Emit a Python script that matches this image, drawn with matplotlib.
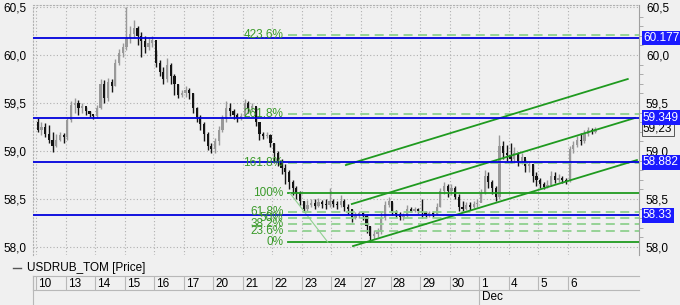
import numpy as np
import matplotlib.pyplot as plt
from matplotlib.lines import Line2D
from matplotlib.transforms import blended_transform_factory

plt.rcParams['font.family'] = ['Liberation Sans', 'DejaVu Sans']
plt.rcParams['font.size'] = 8.5

# --- data -------------------------------------------------------------
day_labels = ['10', '13', '14', '15', '16', '17', '20', '21', '22', '23',
              '24', '27', '28', '29', '30', '1', '4', '5', '6']
bars_per_day = 8
first_open = 59.30

close = [
    59.22, 59.25, 59.18, 59.12, 59.05, 59.12, 59.17, 59.15,   # 10
    59.32, 59.48, 59.50, 59.45, 59.47, 59.42, 59.39, 59.36,   # 13
    59.45, 59.70, 59.55, 59.72, 59.68, 59.92, 60.02, 60.08,   # 14
    60.18, 60.22, 60.28, 60.20, 60.15, 60.08, 60.12, 60.16,   # 15
    59.92, 59.82, 59.75, 59.90, 59.78, 59.70, 59.58, 59.60,   # 16
    59.64, 59.60, 59.45, 59.35, 59.28, 59.18, 59.05, 59.02,   # 17
    59.10, 59.22, 59.33, 59.45, 59.42, 59.38, 59.34, 59.36,   # 20
    59.50, 59.45, 59.47, 59.30, 59.18, 59.16, 59.17, 59.08,   # 21
    58.98, 58.90, 58.82, 58.78, 58.68, 58.62, 58.56, 58.48,   # 22
    58.40, 58.44, 58.46, 58.43, 58.47, 58.45, 58.44, 58.48,   # 23
    58.45, 58.44, 58.48, 58.42, 58.40, 58.30, 58.33, 58.35,   # 24
    58.32, 58.22, 58.12, 58.14, 58.16, 58.30, 58.44, 58.48,   # 27
    58.36, 58.34, 58.31, 58.32, 58.40, 58.38, 58.40, 58.38,   # 28
    58.36, 58.33, 58.35, 58.34, 58.42, 58.58, 58.64, 58.58,   # 29
    58.62, 58.52, 58.42, 58.40, 58.44, 58.42, 58.45, 58.46,   # 30
    58.56, 58.74, 58.68, 58.62, 58.52, 59.05, 58.98, 58.96,   # 1
    58.92, 58.98, 58.90, 58.94, 58.84, 58.86, 58.74, 58.70,   # 4
    58.66, 58.63, 58.65, 58.74, 58.70, 58.72, 58.70, 58.69,   # 5
    59.02, 59.06, 59.12, 59.10, 59.18, 59.22, 59.20, 59.23,   # 6
]
high = [
    59.34, 59.30, 59.29, 59.27, 59.20, 59.18, 59.20, 59.19,
    59.34, 59.52, 59.55, 59.53, 59.50, 59.46, 59.42, 59.38,
    59.48, 59.75, 59.74, 59.76, 59.75, 59.96, 60.06, 60.12,
    60.50, 60.30, 60.36, 60.30, 60.24, 60.20, 60.18, 60.20,
    60.05, 59.95, 59.88, 59.97, 59.92, 59.80, 59.70, 59.64,
    59.68, 59.66, 59.60, 59.46, 59.38, 59.30, 59.20, 59.08,
    59.14, 59.26, 59.38, 59.52, 59.50, 59.44, 59.40, 59.40,
    59.54, 59.52, 59.50, 59.46, 59.28, 59.20, 59.20, 59.18,
    59.08, 59.00, 58.92, 58.86, 58.80, 58.70, 58.64, 58.58,
    58.48, 58.49, 58.50, 58.50, 58.51, 58.49, 58.50, 58.62,
    58.50, 58.48, 58.54, 58.50, 58.45, 58.40, 58.37, 58.38,
    58.36, 58.34, 58.22, 58.18, 58.20, 58.36, 58.48, 58.52,
    58.47, 58.39, 58.36, 58.35, 58.44, 58.42, 58.42, 58.41,
    58.50, 58.38, 58.38, 58.38, 58.46, 58.62, 58.68, 58.66,
    58.66, 58.64, 58.55, 58.48, 58.47, 58.47, 58.48, 58.50,
    58.60, 58.80, 58.78, 58.70, 58.64, 59.17, 59.10, 59.06,
    59.08, 59.04, 58.99, 58.98, 58.92, 58.90, 58.86, 58.78,
    58.72, 58.68, 58.70, 58.79, 58.78, 58.76, 58.74, 58.72,
    59.05, 59.10, 59.16, 59.19, 59.22, 59.25, 59.24, 59.25,
]
low = [
    59.20, 59.17, 59.15, 59.08, 58.99, 59.04, 59.10, 59.08,
    59.12, 59.30, 59.40, 59.38, 59.40, 59.38, 59.35, 59.33,
    59.34, 59.44, 59.50, 59.52, 59.62, 59.68, 59.90, 59.98,
    60.05, 60.12, 60.18, 60.10, 59.98, 60.02, 60.05, 60.08,
    59.88, 59.78, 59.70, 59.72, 59.70, 59.58, 59.55, 59.56,
    59.56, 59.54, 59.40, 59.30, 59.22, 59.10, 59.01, 58.98,
    58.98, 59.06, 59.20, 59.30, 59.36, 59.33, 59.30, 59.32,
    59.35, 59.40, 59.42, 59.26, 59.12, 59.13, 59.14, 59.04,
    58.88, 58.84, 58.76, 58.66, 58.60, 58.54, 58.50, 58.44,
    58.36, 58.38, 58.42, 58.40, 58.42, 58.41, 58.40, 58.42,
    58.42, 58.40, 58.42, 58.38, 58.34, 58.26, 58.29, 58.30,
    58.28, 58.15, 58.05, 58.08, 58.10, 58.14, 58.28, 58.42,
    58.33, 58.30, 58.28, 58.28, 58.31, 58.36, 58.37, 58.35,
    58.30, 58.30, 58.31, 58.31, 58.33, 58.42, 58.55, 58.52,
    58.54, 58.50, 58.38, 58.37, 58.39, 58.39, 58.41, 58.42,
    58.47, 58.55, 58.62, 58.55, 58.48, 58.50, 58.92, 58.90,
    58.88, 58.88, 58.84, 58.86, 58.78, 58.78, 58.68, 58.64,
    58.62, 58.60, 58.61, 58.64, 58.67, 58.68, 58.67, 58.66,
    58.68, 58.98, 59.04, 59.06, 59.08, 59.16, 59.18, 59.19,
]

blue_levels = [60.177, 59.349, 58.882, 58.33]
blue_texts = ['60.177', '59.349', '58.882', '58.33']
last_price = 59.23

# fibonacci tool: anchors (day units, price)
fib_anchor_x = [8.60, 9.88]
fib_anchor_y = [58.56, 58.05]
fib_ratios = [0.0, 0.236, 0.382, 0.5, 0.618, 1.0, 1.618, 2.618, 4.236]
fib_labels = ['0%', '23.6%', '38.2%', '50%', '61.8%', '100%', '161.8%', '261.8%', '423.6%']
fib_solid = [True, False, False, False, False, True, False, False, False]
fib_start = 8.53

# parallel channel (x0, y0, x1, y1)
channel = [
    (10.49, 58.854, 20.03, 59.750),
    (10.69, 58.448, 20.27, 59.344),
    (10.73, 58.010, 20.34, 58.906),
]

# --- figure -----------------------------------------------------------
W, H = 680, 305
fig = plt.figure(figsize=(W / 100, H / 100), dpi=100)
bg = '#f0f0f0'
fig.patch.set_facecolor(bg)

L, R, T, B = 33, 639, 5, 255
ax = fig.add_axes([L / W, 1 - B / H, (R - L) / W, (B - T) / H])
ax.set_facecolor(bg)
xmin, xmax = -0.10, 20.41
ax.set_xlim(xmin, xmax)
ax.set_ylim(57.917, 60.521)

grid_c = '#b0b0b0'
for d in range(len(day_labels)):
    ax.axvline(d, color=grid_c, lw=0.8, ls=(0, (1, 2)), zorder=0)
for yv in [58.0, 58.5, 59.0, 59.5, 60.0, 60.5]:
    ax.axhline(yv, color=grid_c, lw=0.8, ls=(0, (1, 2)), zorder=0)

# candles
n = len(close)
opens = [first_open] + close[:-1]
xs = np.array([i // bars_per_day + (i % bars_per_day + 0.5) / bars_per_day for i in range(n)])
o = np.array(opens)
c = np.array(close)
up = c >= o
cols = np.where(up, '#999999', '#151515')
ax.vlines(xs, low, high, colors=cols, lw=1, zorder=2)
body_h = np.maximum(np.abs(c - o), 0.006)
ax.bar(xs, body_h, bottom=np.minimum(o, c), width=0.075, color=cols, lw=0, zorder=2)

# fibonacci
g_solid = '#1f9a1f'
g_dash = '#8fd08f'
g_text = '#3a9a2a'
rng = fib_anchor_y[0] - fib_anchor_y[1]
for r, lab, solid in zip(fib_ratios, fib_labels, fib_solid):
    lv = fib_anchor_y[1] + r * rng
    if solid:
        ax.plot([fib_start, xmax], [lv, lv], color=g_solid, lw=1.3, zorder=3)
    else:
        ax.plot([fib_start, xmax], [lv, lv], color=g_dash, lw=1.3, ls=(0, (5, 3)), zorder=3)
    ax.text(fib_start - 0.16, lv, lab, ha='right', va='center', color=g_text,
            fontsize=8.5, zorder=6)
ax.plot(fib_anchor_x, fib_anchor_y, color=g_dash, lw=0.8, zorder=3)

for x0, y0, x1, y1 in channel:
    ax.plot([x0, x1], [y0, y1], color=g_solid, lw=1.3, zorder=3)

# blue levels
blue = '#1a1aff'
for lv in blue_levels:
    ax.axhline(lv, color='#0000dd', lw=1.3, zorder=4)

# axes styling
for s in ['top', 'left']:
    ax.spines[s].set_color(grid_c)
    ax.spines[s].set_linestyle((0, (1, 2)))
    ax.spines[s].set_linewidth(0.8)
ax.spines['right'].set_color('#a0a0a0')
ax.spines['right'].set_linewidth(0.8)
ax.spines['bottom'].set_visible(False)
ax.set_xticks([])
ticks = [58.0, 58.5, 59.0, 59.5, 60.0, 60.5]
ax.set_yticks(ticks)
ax.set_yticklabels([f'{t:.1f}'.replace('.', ',') for t in ticks])
ax.set_yticks(np.arange(58.0, 60.51, 0.1), minor=True)
ax.tick_params(axis='y', which='major', left=True, right=True, labelleft=True,
               labelright=True, length=0, pad=5, labelsize=8.5)
ax.tick_params(axis='y', which='minor', left=False, right=True, length=3,
               color='#a0a0a0', direction='out')

trans = blended_transform_factory(ax.transAxes, ax.transData)
for lv, txt in zip(blue_levels, blue_texts):
    ax.text(1.0065, lv, txt, transform=trans, ha='left', va='center', color='white',
            fontsize=8.5, zorder=7, clip_on=False,
            bbox=dict(boxstyle='square,pad=0.12', fc=blue, ec='none'))
ax.text(1.0065, last_price, '59,23', transform=trans, ha='left', va='center',
        color='black', fontsize=8.5, clip_on=False,
        bbox=dict(boxstyle='square,pad=0.12', fc=bg, ec='#404040', lw=0.6))

# legend line
fig.add_artist(Line2D([13 / W, 21 / W], [1 - 268 / H] * 2, color='#555555', lw=1))
fig.text(27 / W, 1 - 268 / H, 'USDRUB_TOM [Price]', ha='left', va='center', fontsize=8.5)

# date strip
axd = fig.add_axes([L / W, 1 - 290 / H, (R - L) / W, 14 / H])
axd.set_facecolor(bg)
axd.set_xlim(xmin, xmax)
axd.set_ylim(0, 1)
axd.set_xticks([])
axd.set_yticks([])
for s in axd.spines.values():
    s.set_color('#b8b8b8')
    s.set_linewidth(0.8)
axd.spines['right'].set_visible(False)
for d, lab in enumerate(day_labels):
    axd.axvline(d, color='#b8b8b8', lw=0.8)
    axd.text(d + 0.08, 0.45, lab, ha='left', va='center', fontsize=8.5)

fig.add_artist(Line2D([L / W] * 2, [0, 1 - 276 / H], color='#b8b8b8', lw=0.8))
dec_x = L / W + (15 - xmin) / (xmax - xmin) * (R - L) / W
fig.add_artist(Line2D([dec_x] * 2, [0, 1 - 290 / H], color='#b8b8b8', lw=0.8))
fig.text(dec_x + 3 / W, 1 - 297 / H, 'Dec', ha='left', va='center', fontsize=8.5)

fig.savefig('out.png', dpi=100, facecolor=bg)
